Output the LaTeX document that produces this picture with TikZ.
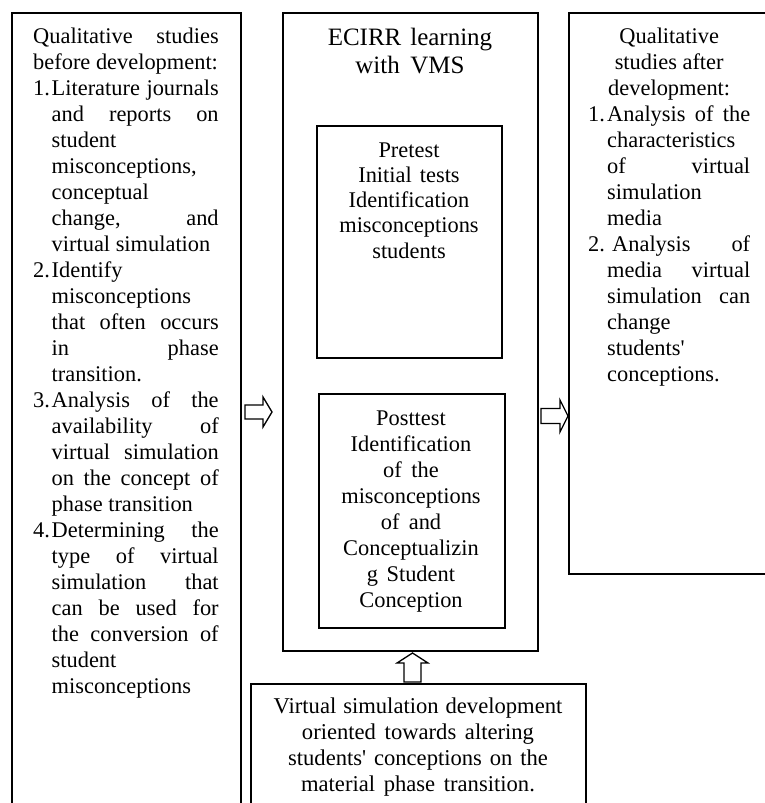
\documentclass[tikz,border=0pt]{standalone}
\usepackage{fontspec}
\setmainfont{Liberation Serif}
\newlength\nw
\newlength\iw
\newcommand\lnJ[1]{\makebox[\linewidth][s]{#1}}
\newcommand\lnC[1]{\makebox[\linewidth][c]{#1}}
\newcommand\lnNJ[2]{\makebox[\nw][l]{#1}\makebox[\iw][s]{#2}}
\newcommand\lnNL[2]{\makebox[\nw][l]{#1}#2}
\newcommand\lnIJ[1]{\hspace*{\nw}\makebox[\iw][s]{#1}}
\newcommand\lnIL[1]{\hspace*{\nw}#1}
\begin{document}
\begin{tikzpicture}[x=1pt,y=-1pt,
  box/.style={draw, line width=1.8pt, inner sep=0pt, anchor=north west},
  txt/.style={inner sep=0pt, anchor=base west, align=left, font=\fontsize{22.4}{26}\selectfont,
    execute at begin node={\spaceskip=0pt\xspaceskip=0pt\hyphenpenalty=10000\relax}},
  ctxt/.style={inner sep=0pt, anchor=base, align=center, font=\fontsize{22.4}{26}\selectfont,
    execute at begin node={\spaceskip=0pt\xspaceskip=0pt\hyphenpenalty=10000\relax}},
  barrow/.style={draw, line width=1.3pt, line join=miter, fill=white}]
\useasboundingbox (0,0) rectangle (765,803);
\fill[white] (0,0) rectangle (765,803);
\clip (0,0) rectangle (765,803);

% block arrows
\coordinate (arL) at (245,412);
\draw[barrow] (arL) ++(0,-7) -- ++(18,0) -- ++(0,-8) -- ++(9,15) -- ++(-9,15) -- ++(0,-8) -- ++(-18,0) -- cycle;
\coordinate (arR) at (541,416);
\draw[barrow] (arR) ++(0,-7.5) -- ++(19,0) -- ++(0,-8.5) -- ++(8,16) -- ++(-8,16) -- ++(0,-8.5) -- ++(-19,0) -- cycle;
\coordinate (arU) at (412.5,682);
\draw[barrow] (arU) ++(-8.5,0) -- ++(0,-19) -- ++(-7,0) -- ++(15.5,-10) -- ++(15.5,10) -- ++(-7,0) -- ++(0,19) -- cycle;

% boxes
\node[box, minimum width=229pt, minimum height=830pt] (leftbox) at (11,12) {};
\node[box, minimum width=255pt, minimum height=638pt] (midbox) at (282,12) {};
\node[box, minimum width=185pt, minimum height=232pt] (prebox) at (316,125) {};
\node[box, minimum width=186pt, minimum height=234pt] (postbox) at (318,393) {};
\node[box, minimum width=335pt, minimum height=150pt] (botbox) at (250,683) {};
\node[box, minimum width=250pt, minimum height=561pt] (rightbox) at (568,12) {};

% left text
\node[txt, text width=185.5pt] (lefttext) at (33,43) {\setlength\nw{18.5pt}\setlength\iw{167pt}%
\lnJ{Qualitative studies}\\
before development:\\
\lnNJ{1.}{Literature journals}\\
\lnIJ{and reports on}\\
\lnIL{student}\\
\lnIL{misconceptions,}\\
\lnIL{conceptual}\\
\lnIJ{change, and}\\
\lnIL{virtual simulation}\\
\lnNL{2.}{Identify}\\
\lnIL{misconceptions}\\
\lnIJ{that often occurs}\\
\lnIJ{in phase}\\
\lnIL{transition.}\\
\lnNJ{3.}{Analysis of the}\\
\lnIJ{availability of}\\
\lnIJ{virtual simulation}\\
\lnIJ{on the concept of}\\
\lnIL{phase transition}\\
\lnNJ{4.}{Determining the}\\
\lnIJ{type of virtual}\\
\lnIJ{simulation that}\\
\lnIJ{can be used for}\\
\lnIJ{the conversion of}\\
\lnIL{student}\\
\lnIL{misconceptions}};

% middle title
\node[ctxt, text width=250pt, font=\fontsize{25}{28.5}\selectfont] (midtitle) at (410,45) {ECIRR learning\\with VMS};

% pretest
\node[ctxt, text width=180pt, font=\fontsize{22.4}{25.3}\selectfont] (pretext) at (409,157) {Pretest\\Initial tests\\Identification\\misconceptions\\students};

% posttest
\node[ctxt, text width=180pt] (posttext) at (411,425) {Posttest\\Identification\\of the\\misconceptions\\of and\\Conceptualizin\\g Student\\Conception};

% bottom
\node[ctxt, text width=330pt, font=\fontsize{22.6}{26.3}\selectfont] (bottext) at (418,713) {Virtual simulation development\\oriented towards altering\\students\textquotesingle{} conceptions on the\\material phase transition.};

% right text
\node[txt, text width=162pt] (righttext) at (588,43) {\setlength\nw{19pt}\setlength\iw{143pt}%
\lnC{Qualitative}\\
\lnC{studies after}\\
\lnC{development:}\\
\lnNJ{1.}{Analysis of the}\\
\lnIL{characteristics}\\
\lnIJ{of virtual}\\
\lnIL{simulation}\\
\lnIL{media}\\
\makebox[\nw][l]{2.}\hspace*{5pt}\makebox[138pt][s]{Analysis of}\\
\lnIJ{media virtual}\\
\lnIJ{simulation can}\\
\lnIL{change}\\
\lnIL{students\textquotesingle}\\
\lnIL{conceptions.}};
\end{tikzpicture}
\end{document}
